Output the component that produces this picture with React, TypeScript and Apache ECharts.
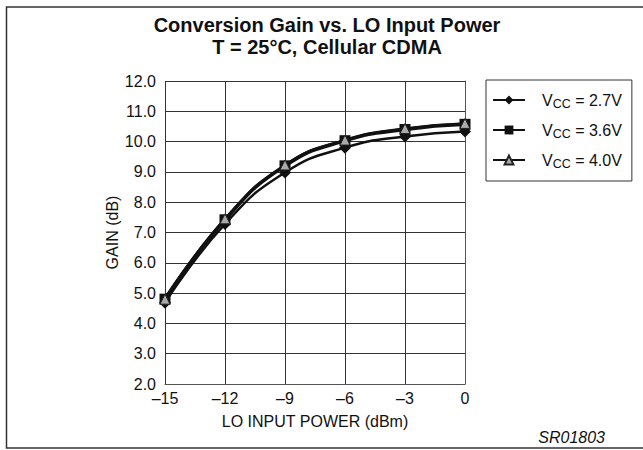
import React, { useEffect, useRef } from "react";
import * as echarts from "echarts";

const xValues = [-15, -12, -9, -6, -3, 0];
const gain27 = [4.68, 7.28, 8.98, 9.8, 10.17, 10.33];
const gain36 = [4.8, 7.42, 9.2, 10.03, 10.4, 10.57];
const gain40 = [4.8, 7.45, 9.23, 10.05, 10.43, 10.6];
const seriesNames = ["VCC = 2.7V", "VCC = 3.6V", "VCC = 4.0V"];

const FONT = "Liberation Sans, Arial, sans-serif";

export default function App() {
  const ref = useRef<HTMLDivElement>(null);
  useEffect(() => {
    if (!ref.current) return;
    const chart = echarts.init(ref.current, null, { renderer: "svg" });
    const pair = (arr: number[]) => xValues.map((x, i) => [x, arr[i]]);
    chart.setOption({
      animation: false,
      backgroundColor: "#fff",
      textStyle: { fontFamily: FONT },
      title: {
        text: "Conversion Gain vs. LO Input Power\nT = 25°C, Cellular CDMA",
        left: 322,
        textAlign: "center",
        top: 9,
        textStyle: { fontSize: 20, fontWeight: "bold", color: "#111", lineHeight: 22, fontFamily: FONT },
      },
      grid: { left: 165, right: 178, top: 81, height: 303 },
      xAxis: {
        type: "value",
        min: -15,
        max: 0,
        interval: 3,
        name: "LO INPUT POWER (dBm)",
        nameLocation: "middle",
        nameGap: 29,
        nameTextStyle: { fontSize: 16, color: "#111", fontFamily: FONT },
        axisLine: { show: true, lineStyle: { color: "#555", width: 1 } },
        axisTick: { show: false },
        axisLabel: {
          fontSize: 16,
          color: "#111",
          margin: 6,
          fontFamily: FONT,
          formatter: (v: number) => String(v).replace("-", "\u2013"),
        },
        splitLine: { show: true, lineStyle: { color: "#333", width: 1 } },
      },
      yAxis: {
        type: "value",
        min: 2,
        max: 12,
        interval: 1,
        name: "GAIN (dB)",
        nameLocation: "middle",
        nameGap: 44,
        nameTextStyle: { fontSize: 16, color: "#111", fontFamily: FONT },
        axisLine: { show: true, lineStyle: { color: "#555", width: 1 } },
        axisTick: { show: false },
        axisLabel: {
          fontSize: 16,
          color: "#111",
          margin: 9,
          fontFamily: FONT,
          formatter: (v: number) => v.toFixed(1),
        },
        splitLine: { show: true, lineStyle: { color: "#333", width: 1 } },
      },
      legend: {
        orient: "vertical",
        left: 486,
        top: 80,
        width: 148,
        itemWidth: 32,
        itemHeight: 11,
        itemGap: 12,
        padding: [12, 10, 11, 6],
        borderColor: "#333",
        borderWidth: 1,
        data: seriesNames,
        formatter: (name: string) => {
          const rest = name.replace("VCC", "");
          return "{v|V}{s|CC}{v|" + rest + "}";
        },
        textStyle: {
          color: "#111",
          fontFamily: FONT,
          padding: [0, 0, 0, 12],
          rich: {
            v: { fontSize: 16, fontFamily: FONT, color: "#111" },
            s: { fontSize: 12.5, fontFamily: FONT, color: "#111", padding: [7, 0, 0, 0] },
          },
        },
      },
      series: [
        {
          name: seriesNames[0],
          type: "line",
          smooth: true,
          data: pair(gain27),
          symbol: "diamond",
          symbolSize: 12,
          itemStyle: { color: "#111" },
          lineStyle: { color: "#111", width: 2.5 },
          z: 3,
        },
        {
          name: seriesNames[1],
          type: "line",
          smooth: true,
          data: pair(gain36),
          symbol: "rect",
          symbolSize: 11,
          itemStyle: { color: "#111" },
          lineStyle: { color: "#111", width: 3.5 },
          z: 4,
        },
        {
          name: seriesNames[2],
          type: "line",
          smooth: true,
          data: pair(gain40),
          symbol: "triangle",
          symbolSize: 10,
          itemStyle: { color: "#aaa", borderColor: "#222", borderWidth: 1 },
          lineStyle: { color: "#111", width: 2.5 },
          z: 5,
        },
      ],
      graphic: [
        {
          type: "rect",
          shape: { x: 6.5, y: 7, width: 700, height: 441 },
          style: { fill: "none", stroke: "#333", lineWidth: 1.5 },
          silent: true,
          z: -1,
        },
        {
          type: "text",
          right: 38,
          top: 429,
          style: {
            text: "SR01803",
            font: "italic 16px Liberation Sans, Arial, sans-serif",
            fill: "#111",
          },
        },
      ],
    });
    return () => chart.dispose();
  }, []);
  return (
    <div
      ref={ref}
      style={{ position: "fixed", left: 0, top: 0, width: 643, height: 450 }}
    />
  );
}
